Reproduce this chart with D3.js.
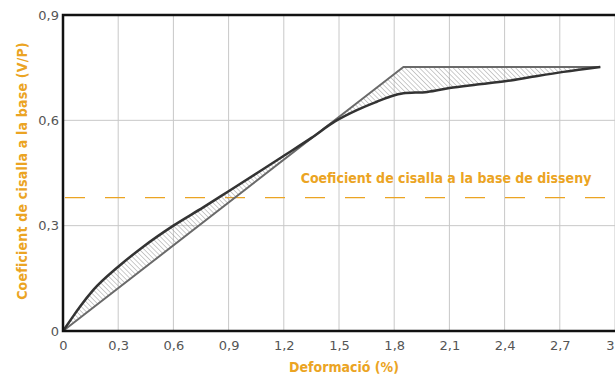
<!DOCTYPE html>
<html>
<head>
<meta charset="utf-8">
<script src="https://cdn.jsdelivr.net/npm/d3@7"></script>
<style>
  html, body { margin: 0; padding: 0; background: #fff; }
  svg { display: block; }
</style>
</head>
<body>
<svg id="chart" width="615" height="376"></svg>
<script>
// Capacity curve (deformation %, base shear coefficient V/P)
const capacityX = [0, 0.05, 0.092, 0.165, 0.3, 0.436, 0.6, 0.762, 0.9, 1.07, 1.2, 1.35, 1.478, 1.6, 1.705, 1.78, 1.85, 1.98, 2.1, 2.25, 2.41, 2.55, 2.72, 2.92];
const capacityY = [0, 0.038, 0.069, 0.117, 0.183, 0.24, 0.300, 0.352, 0.398, 0.455, 0.499, 0.55, 0.597, 0.63, 0.653, 0.668, 0.677, 0.681, 0.692, 0.702, 0.712, 0.724, 0.738, 0.752];
// Idealised bilinear curve
const bilinearX = [0, 1.85, 2.92];
const bilinearY = [0, 0.752, 0.752];
// Design base shear coefficient
const designCoef = 0.38;
const xTicks = [0, 0.3, 0.6, 0.9, 1.2, 1.5, 1.8, 2.1, 2.4, 2.7, 3];
const yTicks = [0, 0.3, 0.6, 0.9];

const orange = "#EBA423";
const titleFont = "'DejaVu Sans Condensed', 'DejaVu Sans'";
const svg = d3.select("#chart");
const margin = { left: 63, top: 15, right: 0, bottom: 45 };
const W = 615, H = 376;

const x = d3.scaleLinear().domain([0, 3]).range([margin.left, W - margin.right]);
const y = d3.scaleLinear().domain([0, 0.9]).range([H - margin.bottom, margin.top]);

const fmt = d => Number.isInteger(d) ? String(d) : d3.format(".1f")(d).replace(".", ",");

// hatch pattern for the area between the curves
const defs = svg.append("defs");
const pat = defs.append("pattern")
  .attr("id", "hatch").attr("patternUnits", "userSpaceOnUse")
  .attr("width", 3.4).attr("height", 3.4)
  .attr("patternTransform", "rotate(-45)");
pat.append("line").attr("x1", 0).attr("y1", 0).attr("x2", 0).attr("y2", 3.4)
  .attr("stroke", "#8c8c8c").attr("stroke-width", 0.9);

// grid
svg.append("g").selectAll("line").data(xTicks.slice(1)).join("line")
  .attr("x1", d => x(d)).attr("x2", d => x(d))
  .attr("y1", y(0)).attr("y2", y(0.9))
  .attr("stroke", "#c8c8c8").attr("stroke-width", 1);
svg.append("g").selectAll("line").data(yTicks.slice(1, -1)).join("line")
  .attr("x1", x(0)).attr("x2", x(3))
  .attr("y1", d => y(d)).attr("y2", d => y(d))
  .attr("stroke", "#c8c8c8").attr("stroke-width", 1);

// design coefficient line
svg.append("line")
  .attr("x1", x(0) + 2).attr("x2", W)
  .attr("y1", y(designCoef)).attr("y2", y(designCoef))
  .attr("stroke", orange).attr("stroke-width", 1.3)
  .attr("stroke-dasharray", "20,20");

svg.append("text")
  .attr("x", 446).attr("y", y(designCoef) - 15)
  .attr("text-anchor", "middle")
  .attr("font-family", titleFont)
  .attr("font-weight", "bold").attr("font-size", 14)
  .attr("fill", orange)
  .text("Coeficient de cisalla a la base de disseny");

// piecewise-linear lookup used to bound the hatched area
const lookup = (xsArr, ysArr) => v => {
  for (let i = 1; i < xsArr.length; i++) {
    if (v <= xsArr[i]) {
      const t = (v - xsArr[i - 1]) / (xsArr[i] - xsArr[i - 1]);
      return ysArr[i - 1] + t * (ysArr[i] - ysArr[i - 1]);
    }
  }
  return ysArr[ysArr.length - 1];
};
const bilin = lookup(bilinearX, bilinearY);
const capInterp = lookup(capacityX, capacityY);
const xs = Array.from(new Set([...capacityX, ...bilinearX])).sort((a, b) => a - b);
const area = d3.area()
  .x(d => x(d))
  .y0(d => y(bilin(d)))
  .y1(d => y(capInterp(d)))
  .curve(d3.curveMonotoneX);
svg.append("path").datum(xs).attr("d", area).attr("fill", "url(#hatch)");

const line = d3.line().x(d => x(d[0])).y(d => y(d[1]));
svg.append("path")
  .datum(bilinearX.map((v, i) => [v, bilinearY[i]]))
  .attr("d", line).attr("fill", "none")
  .attr("stroke", "#6a6a6a").attr("stroke-width", 2).attr("stroke-linejoin", "round");
svg.append("path")
  .datum(capacityX.map((v, i) => [v, capacityY[i]]))
  .attr("d", d3.line().x(d => x(d[0])).y(d => y(d[1])).curve(d3.curveMonotoneX))
  .attr("fill", "none")
  .attr("stroke", "#333").attr("stroke-width", 2.5).attr("stroke-linejoin", "round");

// frame: left, bottom and top
svg.append("path")
  .attr("d", `M${W},${y(0.9)}H${x(0)}V${y(0)}H${W}`)
  .attr("fill", "none").attr("stroke", "#111").attr("stroke-width", 2.5);

// axes
const xAxis = svg.append("g").attr("transform", `translate(0,${y(0)})`)
  .call(d3.axisBottom(x).tickValues(xTicks).tickFormat(fmt).tickSize(0).tickPadding(10));
xAxis.select(".domain").remove();
// keep the last tick label inside the page
xAxis.selectAll(".tick text").filter(d => d === 3).attr("text-anchor", "end").attr("dx", -1);
const yAxis = svg.append("g").attr("transform", `translate(${x(0)},0)`)
  .call(d3.axisLeft(y).tickValues(yTicks).tickFormat(fmt).tickSize(0).tickPadding(4));
yAxis.select(".domain").remove();
svg.selectAll(".tick text")
  .attr("font-family", "'DejaVu Sans'").attr("font-size", 13).attr("fill", "#555");

// axis titles
svg.append("text")
  .attr("x", 344).attr("y", 372).attr("text-anchor", "middle")
  .attr("font-family", titleFont)
  .attr("font-weight", "bold").attr("font-size", 14).attr("fill", orange)
  .text("Deformació (%)");
svg.append("text")
  .attr("transform", `translate(27,171) rotate(-90)`)
  .attr("text-anchor", "middle")
  .attr("font-family", titleFont)
  .attr("font-weight", "bold").attr("font-size", 14).attr("fill", orange)
  .attr("letter-spacing", 0.2)
  .text("Coeficient de cisalla a la base (V/P)");
</script>
</body>
</html>
